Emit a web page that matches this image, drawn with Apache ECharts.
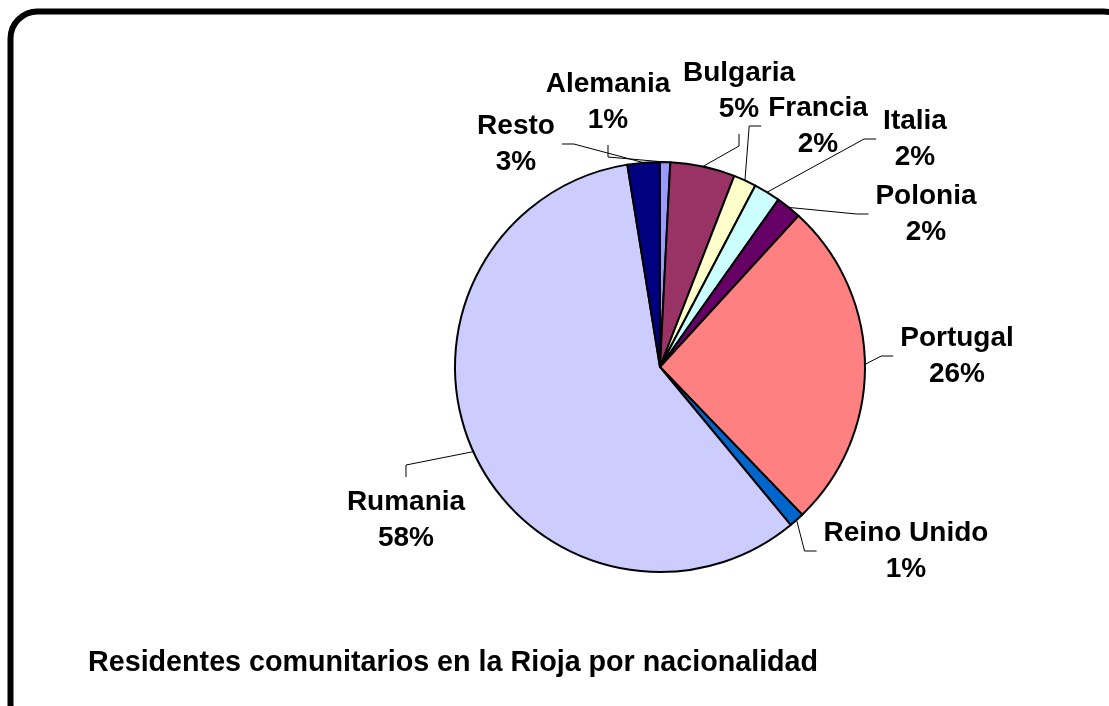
<!DOCTYPE html>
<html>
<head>
<meta charset="utf-8">
<script src="https://cdn.jsdelivr.net/npm/echarts@6/dist/echarts.min.js"></script>
<style>
  html, body { margin: 0; padding: 0; background: #fff; }
  #chart { width: 1109px; height: 706px; }
</style>
</head>
<body>
<div id="chart"></div>
<script>
// ---- data ----
const categories = ['Alemania', 'Bulgaria', 'Francia', 'Italia', 'Polonia', 'Portugal', 'Reino Unido', 'Rumania', 'Resto'];
const values = [0.8, 5.1, 1.8, 2.1, 2.0, 26.0, 1.2, 58.45, 2.55];
const colors = ['#9999FF', '#993366', '#FFFFCC', '#CCFFFF', '#660066', '#FF8080', '#0066CC', '#CCCCFF', '#000080'];
const titleText = 'Residentes comunitarios en la Rioja por nacionalidad';

// ---- label layout (label centre x, y and side where the leader line attaches) ----
const labelSpots = [
  [608, 102, 'bottom'],
  [739, 91, 'bottom'],
  [818, 126, 'left'],
  [915, 139, 'left'],
  [926, 214, 'left'],
  [957, 356, 'left'],
  [906, 551, 'left'],
  [406, 520, 'top'],
  [516, 144, 'right']
];

const FONT = "'Liberation Sans', Arial, Helvetica, sans-serif";
const LABEL_SIZE = 28;
const LINE_H = 36;
const GAP = 7;
const TICK = 12;

const measureCtx = document.createElement('canvas').getContext('2d');
measureCtx.font = 'bold ' + LABEL_SIZE + 'px ' + FONT;
function labelLines(i) {
  const sum = values.reduce((a, b) => a + b, 0);
  return [categories[i], Math.round(values[i] / sum * 100) + '%'];
}

const chart = echarts.init(document.getElementById('chart'), null, { renderer: 'canvas' });
chart.setOption({
  backgroundColor: '#fff',
  animation: false,
  graphic: [{
    type: 'rect',
    shape: { x: 10.5, y: 11.5, width: 1120, height: 720, r: 27 },
    style: { fill: 'none', stroke: '#000', lineWidth: 6 },
    z: 10
  }, {
    type: 'text',
    left: 88,
    top: 649,
    style: {
      text: titleText,
      font: 'bold 28.7px ' + FONT,
      fill: '#000'
    }
  }],
  series: [{
    type: 'pie',
    center: [660, 367],
    radius: 205,
    startAngle: 90,
    clockwise: true,
    avoidLabelOverlap: false,
    data: categories.map((c, i) => ({ name: c, value: values[i], itemStyle: { color: colors[i] } })),
    itemStyle: { borderColor: '#000', borderWidth: 2 },
    emphasis: { disabled: true },
    label: {
      show: true,
      position: 'outside',
      formatter: p => p.name + '\n' + Math.round(p.percent) + '%',
      fontFamily: FONT,
      fontSize: LABEL_SIZE,
      fontWeight: 'bold',
      color: '#000',
      lineHeight: LINE_H,
      align: 'center'
    },
    labelLine: {
      show: true,
      length: 10,
      length2: 10,
      smooth: false,
      lineStyle: { color: '#000', width: 1 }
    },
    labelLayout: function (params) {
      const i = params.dataIndex;
      const s = labelSpots[i];
      const lines = labelLines(i);
      const w = Math.max.apply(null, lines.map(t => measureCtx.measureText(t).width));
      const h = LINE_H * lines.length;
      const cx = s[0], cy = s[1];
      let p2, p1;
      if (s[2] === 'bottom') { p2 = [cx, cy + h / 2 + GAP]; p1 = [cx, p2[1] + TICK]; }
      else if (s[2] === 'top') { p2 = [cx, cy - h / 2 - GAP]; p1 = [cx, p2[1] - TICK]; }
      else if (s[2] === 'left') { p2 = [cx - w / 2 - GAP, cy]; p1 = [p2[0] - TICK, cy]; }
      else { p2 = [cx + w / 2 + GAP, cy]; p1 = [p2[0] + TICK, cy]; }
      const p0 = params.labelLinePoints ? params.labelLinePoints[0] : p1;
      return {
        x: cx,
        y: cy,
        align: 'center',
        verticalAlign: 'middle',
        hideOverlap: false,
        labelLinePoints: [p0, p1, p2]
      };
    }
  }]
});
</script>
</body>
</html>
